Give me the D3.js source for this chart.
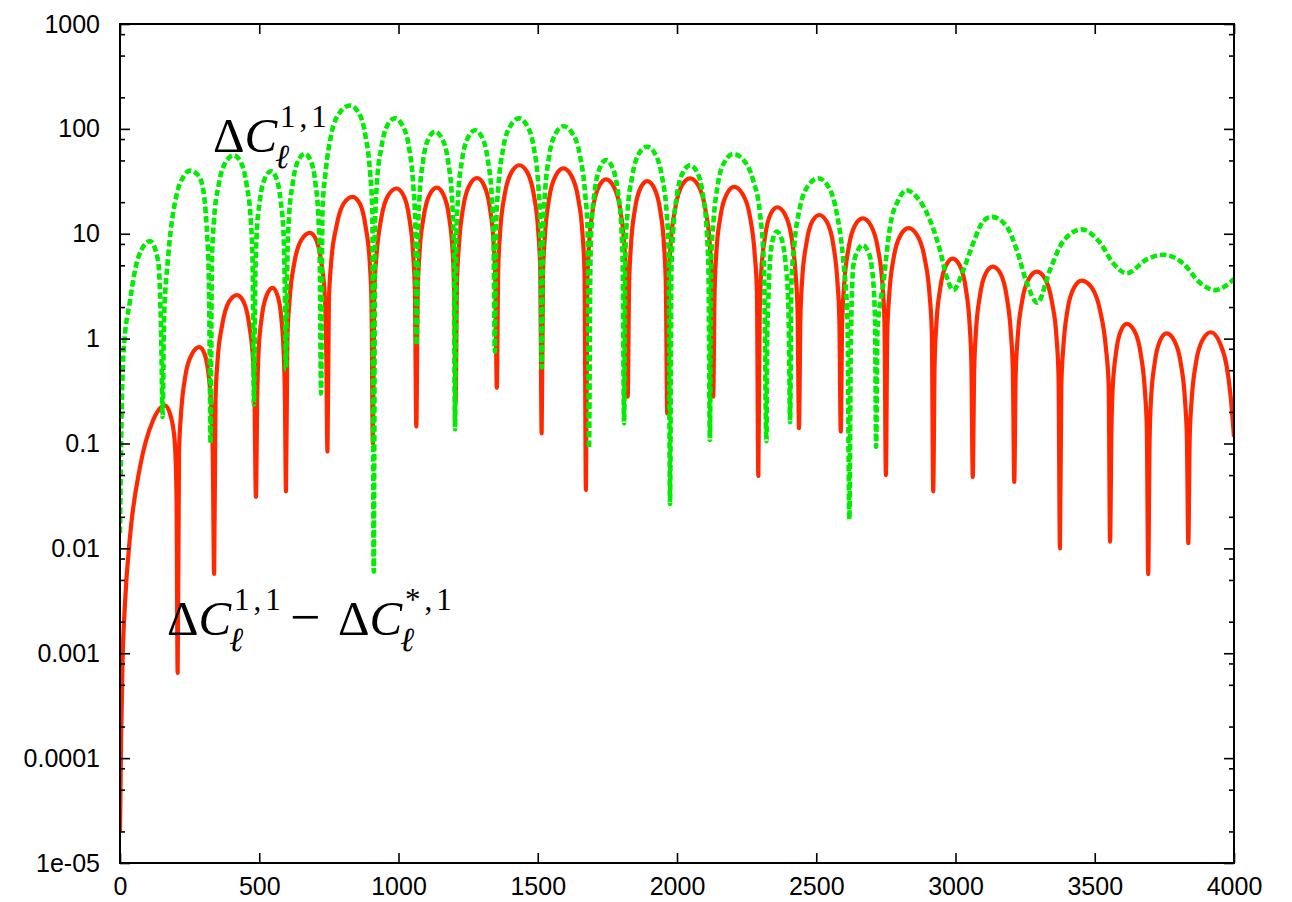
<!DOCTYPE html>
<html>
<head>
<meta charset="utf-8">
<script src="https://cdn.jsdelivr.net/npm/d3@7"></script>
<style>
  html, body { margin: 0; padding: 0; background: #fff; }
  svg { display: block; }
  .tick text { font-family: "Liberation Sans", Arial, Helvetica, sans-serif; font-size: 25px; fill: #000; }
  .math { font-family: "Liberation Serif", "Times New Roman", serif; fill: #000; }
</style>
</head>
<body>
<svg id="chart" width="1292" height="902"></svg>
<script>
// Multipole axis ticks
const xTickValues = [0, 500, 1000, 1500, 2000, 2500, 3000, 3500, 4000];
const xTickLabels = ["0", "500", "1000", "1500", "2000", "2500", "3000", "3500", "4000"];

// Log axis: labelled decades and the minor marks inside each decade
const yTickValues = [1000, 100, 10, 1, 0.1, 0.01, 0.001, 0.0001, 0.00001];
const yTickLabels = ["1000", "100", "10", "1", "0.1", "0.01", "0.001", "0.0001", "1e-05"];
const yMinorFactors = [2, 5, 8];

// ΔC_ℓ^{1,1} − ΔC_ℓ^{*,1}  (solid red), [ℓ, value]
const redPoints = [
  [0, 2e-5], [4, 1.5e-4], [9, 8e-4], [18, 0.003], [36, 0.013], [72, 0.06], [118, 0.165], [162, 0.23],
  [185, 0.17], [197, 0.1], [203, 0.03], [207, 0.00065],
  [212, 0.083], [219, 0.19], [234, 0.43], [258, 0.71], [285, 0.83], [304, 0.71], [319, 0.43], [329, 0.19], [333, 0.083], [338, 0.0057],
  [343, 0.26], [350, 0.6], [367, 1.35], [391, 2.24], [420, 2.6], [444, 2.24], [464, 1.35], [478, 0.6], [483, 0.26], [488, 0.031],
  [493, 0.3], [497, 0.7], [509, 1.6], [527, 2.6], [548, 3.05], [565, 2.6], [579, 1.6], [588, 0.7], [592, 0.3], [596, 0.035],
  [601, 1.0], [609, 2.35], [626, 5.3], [652, 8.8], [682, 10.2], [704, 8.8], [723, 5.3], [736, 2.35], [740, 1.0], [745, 0.084],
  [750, 2.25], [758, 5.2], [777, 11.7], [803, 19.4], [835, 22.5], [861, 19.4], [882, 11.7], [897, 5.2], [903, 2.25], [908, 0.1],
  [913, 2.7], [921, 6.2], [938, 14], [963, 23.2], [993, 27], [1018, 23.2], [1039, 14], [1053, 6.2], [1059, 2.7], [1064, 0.145],
  [1069, 2.75], [1075, 6.3], [1090, 14.3], [1112, 23.7], [1138, 27.5], [1161, 23.7], [1182, 14.3], [1195, 6.3], [1200, 2.75], [1205, 0.25],
  [1210, 3.4], [1217, 7.8], [1232, 17.7], [1255, 29], [1282, 34], [1307, 29], [1328, 17.7], [1342, 7.8], [1348, 3.4], [1353, 0.34],
  [1358, 4.5], [1365, 10.4], [1381, 23.4], [1406, 38.7], [1434, 45], [1462, 38.7], [1486, 23.4], [1502, 10.4], [1509, 4.5], [1514, 0.125],
  [1519, 4.2], [1526, 9.7], [1541, 21.8], [1565, 36], [1592, 42], [1620, 36], [1645, 21.8], [1661, 9.7], [1668, 4.2], [1673, 0.036],
  [1678, 3.3], [1684, 7.6], [1698, 17.2], [1720, 28.4], [1745, 33], [1772, 28.4], [1796, 17.2], [1811, 7.6], [1818, 3.3], [1823, 0.28],
  [1828, 3.2], [1834, 7.3], [1848, 16.5], [1869, 27.3], [1893, 31.8], [1918, 27.3], [1940, 16.5], [1954, 7.3], [1960, 3.2], [1965, 0.194],
  [1970, 3.4], [1977, 7.8], [1994, 17.6], [2018, 29], [2047, 33.8], [2076, 29], [2101, 17.6], [2118, 7.8], [2125, 3.4], [2130, 0.28],
  [2135, 2.8], [2141, 6.4], [2156, 14.6], [2179, 24], [2205, 28], [2235, 24], [2262, 14.6], [2279, 6.4], [2287, 2.8], [2292, 0.049],
  [2297, 1.8], [2302, 4.1], [2316, 9.3], [2336, 15.4], [2360, 17.9], [2387, 15.4], [2411, 9.3], [2426, 4.1], [2433, 1.8], [2438, 0.14],
  [2443, 1.5], [2449, 3.5], [2464, 7.9], [2485, 13], [2511, 15.1], [2538, 13], [2561, 7.9], [2576, 3.5], [2583, 1.5], [2588, 0.13],
  [2593, 1.4], [2600, 3.2], [2616, 7.3], [2639, 12], [2667, 14], [2696, 12], [2721, 7.3], [2738, 3.2], [2745, 1.4], [2750, 0.05],
  [2755, 1.13], [2762, 2.6], [2778, 5.9], [2803, 9.7], [2831, 11.3], [2862, 9.7], [2889, 5.9], [2907, 2.6], [2915, 1.13], [2920, 0.035],
  [2925, 0.58], [2931, 1.33], [2945, 3.0], [2966, 5.0], [2990, 5.8], [3015, 5.0], [3037, 3.0], [3051, 1.33], [3057, 0.58], [3062, 0.048],
  [3067, 0.49], [3073, 1.12], [3087, 2.5], [3109, 4.2], [3134, 4.85], [3161, 4.2], [3184, 2.5], [3199, 1.12], [3206, 0.49], [3211, 0.043],
  [3216, 0.44], [3223, 1.0], [3239, 2.26], [3264, 3.74], [3292, 4.35], [3321, 3.74], [3346, 2.26], [3363, 1.0], [3370, 0.44], [3375, 0.01],
  [3380, 0.36], [3387, 0.82], [3402, 1.86], [3426, 3.07], [3453, 3.57], [3489, 3.07], [3519, 1.86], [3540, 0.82], [3550, 0.36], [3555, 0.0116],
  [3560, 0.14], [3564, 0.32], [3576, 0.72], [3594, 1.19], [3615, 1.38], [3642, 1.19], [3665, 0.72], [3680, 0.32], [3687, 0.14], [3692, 0.0057],
  [3697, 0.11], [3702, 0.26], [3715, 0.58], [3735, 0.96], [3758, 1.12], [3785, 0.96], [3809, 0.58], [3824, 0.26], [3831, 0.11], [3836, 0.0112],
  [3841, 0.115], [3848, 0.26], [3864, 0.6], [3889, 0.99], [3917, 1.15], [3950, 0.9], [3974, 0.54], [3988, 0.28], [4000, 0.116]
];

// ΔC_ℓ^{1,1}  (dashed green), [ℓ, value]
const greenPoints = [
  [0, 0.014], [4, 0.1], [12, 0.7], [36, 2.3], [66, 6], [108, 8.5], [137, 5.5], [148, 1.0], [153, 0.18],
  [158, 1.5], [173, 6], [204, 24], [228, 35], [251, 40], [272, 38], [293, 31], [317, 6], [321, 1.5], [325, 0.1],
  [330, 5.6], [337, 12.9], [354, 29], [379, 48], [408, 56], [434, 48], [455, 29], [470, 12.9], [476, 5.6], [481, 0.235],
  [486, 4], [490, 9.1], [502, 20.5], [521, 34], [542, 39.5], [561, 34], [577, 20.5], [588, 9.1], [591, 4], [596, 0.51],
  [601, 5.8], [606, 13.3], [620, 30], [640, 50], [664, 58], [684, 50], [702, 30], [713, 13.3], [717, 5.8], [722, 0.3],
  [727, 16.7], [738, 38], [758, 87], [790, 144], [826, 167], [856, 144], [881, 87], [898, 38], [906, 16.7], [911, 0.006],
  [916, 12.6], [922, 29], [938, 65.5], [960, 108], [987, 126], [1014, 108], [1038, 65.5], [1053, 29], [1060, 12.6], [1065, 0.87],
  [1070, 9.4], [1075, 21.6], [1088, 49], [1108, 81], [1131, 94], [1156, 81], [1178, 49], [1192, 21.6], [1198, 9.4], [1203, 0.137],
  [1208, 9.7], [1214, 22.3], [1228, 50], [1250, 83], [1275, 97], [1300, 83], [1321, 50], [1335, 22.3], [1341, 9.7], [1346, 0.75],
  [1351, 12.6], [1359, 29], [1376, 65.5], [1403, 108], [1433, 126], [1461, 108], [1486, 65.5], [1502, 29], [1509, 12.6], [1514, 0.53],
  [1519, 10.6], [1526, 24.4], [1541, 55], [1565, 91], [1592, 106], [1624, 91], [1652, 55], [1670, 24.4], [1679, 10.6], [1684, 0.09],
  [1689, 5], [1693, 11.6], [1705, 26], [1724, 43], [1745, 50.5], [1768, 43], [1787, 26], [1800, 11.6], [1805, 5], [1810, 0.156],
  [1815, 6.8], [1822, 15.5], [1839, 35], [1863, 58], [1892, 67.6], [1921, 58], [1946, 35], [1963, 15.5], [1970, 6.8], [1975, 0.0265],
  [1980, 4.5], [1986, 10.4], [2000, 23.4], [2022, 38.7], [2047, 45], [2072, 38.7], [2093, 23.4], [2107, 10.4], [2113, 4.5], [2118, 0.108],
  [2123, 5.8], [2131, 13.2], [2147, 30], [2173, 49.5], [2202, 57.6], [2240, 50], [2274, 32], [2298, 15.6], [2312, 5], [2321, 0.105],
  [2324, 1.0], [2328, 2.4], [2334, 5.5], [2345, 9], [2358, 10.5], [2375, 9], [2389, 5.5], [2399, 2.4], [2402, 1.05], [2406, 0.16],
  [2411, 3.4], [2421, 7.8], [2441, 17.6], [2472, 29], [2507, 33.8], [2540, 29], [2573, 16], [2597, 5.6], [2612, 1.5], [2619, 0.019],
  [2624, 0.8], [2633, 4.9], [2650, 7.0], [2667, 7.8], [2684, 7.0], [2699, 4.9], [2711, 1.6], [2715, 0.093],
  [2720, 1.2], [2741, 3.4], [2765, 11.7], [2795, 21], [2825, 26], [2860, 22.5], [2897, 15.8], [2944, 7.0], [2968, 3.9], [2992, 2.9],
  [3028, 4.5], [3064, 8.2], [3100, 13.2], [3130, 14.5], [3184, 11.7], [3220, 7.0], [3256, 3.4], [3294, 2.2],
  [3339, 4.5], [3387, 8.5], [3453, 11], [3519, 8.2], [3567, 5.2], [3615, 4.2], [3687, 5.7], [3746, 6.3],
  [3818, 5.2], [3878, 3.4], [3932, 2.9], [4000, 3.7]
];

const W = 1292, H = 902;
const plot = { left: 120, right: 1234, top: 24, bottom: 863 };

const x = d3.scaleLinear().domain([0, 4000]).range([plot.left, plot.right]);
const y = d3.scaleLog().domain([1e-5, 1000]).range([plot.bottom, plot.top]);

const svg = d3.select("#chart");
svg.append("rect").attr("width", W).attr("height", H).attr("fill", "#fff");

svg.append("clipPath").attr("id", "plot-area")
  .append("rect")
  .attr("x", plot.left).attr("y", plot.top)
  .attr("width", plot.right - plot.left).attr("height", plot.bottom - plot.top);

// Curves
const line = d3.line()
  .x(d => x(d[0]))
  .y(d => y(d[1]))
  .curve(d3.curveMonotoneX);

const curves = svg.append("g").attr("clip-path", "url(#plot-area)");

curves.append("path")
  .datum(redPoints)
  .attr("d", line)
  .attr("fill", "none")
  .attr("stroke", "#ff2800")
  .attr("stroke-width", 4.2)
  .attr("stroke-linejoin", "round");

curves.append("path")
  .datum(greenPoints)
  .attr("d", line)
  .attr("fill", "none")
  .attr("stroke", "#00ec00")
  .attr("stroke-width", 4.6)
  .attr("stroke-dasharray", "6.5,3")
  .attr("stroke-linejoin", "round");

// Axes: all ticks point into the frame
const yMinor = [];
yTickValues.slice(1).forEach(dec => yMinorFactors.forEach(f => yMinor.push(dec * f)));

function tidy(sel) {
  sel.select(".domain").remove();
  sel.selectAll(".tick line").attr("stroke", "#000").attr("stroke-width", 1.6);
}

svg.append("g")
  .attr("transform", `translate(0,${plot.bottom})`)
  .call(d3.axisBottom(x).tickValues(xTickValues)
    .tickFormat((d, i) => xTickLabels[i])
    .tickSizeInner(-10).tickSizeOuter(0).tickPadding(14))
  .call(tidy);

svg.append("g")
  .attr("transform", `translate(0,${plot.top})`)
  .call(d3.axisTop(x).tickValues(xTickValues).tickFormat("")
    .tickSizeInner(-10).tickSizeOuter(0))
  .call(tidy);

svg.append("g")
  .attr("transform", `translate(${plot.left},0)`)
  .call(d3.axisLeft(y).tickValues(yTickValues)
    .tickFormat((d, i) => yTickLabels[i])
    .tickSizeInner(-10).tickSizeOuter(0).tickPadding(20))
  .call(tidy);

svg.append("g")
  .attr("transform", `translate(${plot.left},0)`)
  .call(d3.axisLeft(y).tickValues(yMinor).tickFormat("")
    .tickSizeInner(-5).tickSizeOuter(0))
  .call(tidy);

svg.append("g")
  .attr("transform", `translate(${plot.right},0)`)
  .call(d3.axisRight(y).tickValues(yTickValues).tickFormat("")
    .tickSizeInner(-10).tickSizeOuter(0))
  .call(tidy);

svg.append("g")
  .attr("transform", `translate(${plot.right},0)`)
  .call(d3.axisRight(y).tickValues(yMinor).tickFormat("")
    .tickSizeInner(-5).tickSizeOuter(0))
  .call(tidy);

// Frame
svg.append("rect")
  .attr("x", plot.left).attr("y", plot.top)
  .attr("width", plot.right - plot.left).attr("height", plot.bottom - plot.top)
  .attr("fill", "none").attr("stroke", "#000").attr("stroke-width", 2);

// Curve labels
function deltaC(xPos, yBase, sup) {
  const t = svg.append("text").attr("class", "math")
    .attr("x", xPos).attr("y", yBase).attr("font-size", 49);
  t.append("tspan").text("Δ");
  t.append("tspan").attr("font-style", "italic").text("C");
  const end = xPos + 62;
  svg.append("text").attr("class", "math")
    .attr("x", end + 5).attr("y", yBase - 25)
    .attr("font-size", 31).attr("letter-spacing", 4).text(sup);
  svg.append("text").attr("class", "math")
    .attr("x", end).attr("y", yBase + 16)
    .attr("font-size", 34).attr("font-style", "italic").text("ℓ");
}

deltaC(213, 152, "1,1");
deltaC(167, 635, "1,1");
svg.append("text").attr("class", "math")
  .attr("x", 290).attr("y", 635).attr("font-size", 54).text("−");
deltaC(338, 635, "*,1");
</script>
</body>
</html>
